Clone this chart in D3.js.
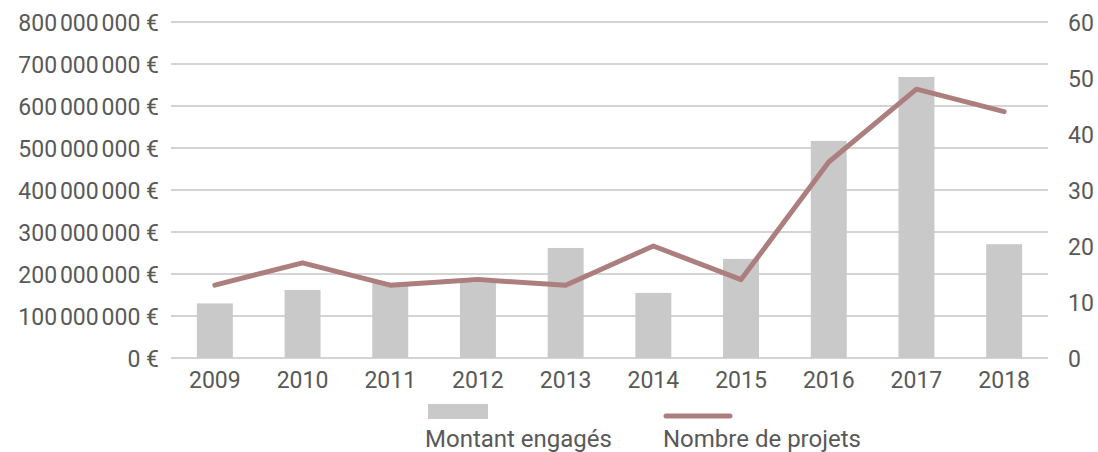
<!DOCTYPE html>
<html>
<head>
<meta charset="utf-8">
<script src="https://cdn.jsdelivr.net/npm/d3@7"></script>
<style>
  body { margin: 0; background: #fff; }
  svg text { font-family: Roboto, "Noto Sans", sans-serif; fill: #595959; }
</style>
</head>
<body>
<svg width="1098" height="452"></svg>
<script>
var svg = d3.select('svg');

// years on the x axis
var years = ['2009','2010','2011','2012','2013','2014','2015','2016','2017','2018'];
// amount committed (euros), bars
var montants = [130e6, 162e6, 179e6, 180e6, 262e6, 155e6, 236e6, 517e6, 669e6, 271e6];
// number of projects, line
var projets = [13, 17, 13, 14, 13, 20, 14, 35, 48, 44];
// axis ticks
var leftTicks = [0, 100e6, 200e6, 300e6, 400e6, 500e6, 600e6, 700e6, 800e6];
var rightTicks = [0, 10, 20, 30, 40, 50, 60];

var plotLeft = 171, plotRight = 1048, plotTop = 22, plotBottom = 358;

var x = d3.scaleBand().domain(years).range([plotLeft, plotRight]);
var yL = d3.scaleLinear().domain([0, 800e6]).range([plotBottom, plotTop]);
var yR = d3.scaleLinear().domain([0, 60]).range([plotBottom, plotTop]);

// euro format with thin spaces
function euro(v){
    if(v == 0) return '0 €';
    return d3.format(',')(v).replace(/,/g, '\u202f') + ' €';
}

// gridlines
svg.append('g').selectAll('line')
    .data(leftTicks)
    .enter()
    .append('line')
    .attr('x1', plotLeft).attr('x2', plotRight)
    .attr('y1', function(d){ return yL(d); })
    .attr('y2', function(d){ return yL(d); })
    .attr('stroke', '#d4d4d4')
    .attr('stroke-width', 2);

// bars
var bw = x.bandwidth() * 0.41;
svg.append('g').selectAll('rect')
    .data(montants)
    .enter()
    .append('rect')
    .attr('x', function(d, i){ return x(years[i]) + x.bandwidth()/2 - bw/2; })
    .attr('y', function(d){ return yL(d); })
    .attr('width', bw)
    .attr('height', function(d){ return plotBottom - yL(d); })
    .attr('fill', '#c9c9c9');

// line
var line = d3.line()
    .x(function(d, i){ return x(years[i]) + x.bandwidth()/2; })
    .y(function(d){ return yR(d); });

svg.append('path')
    .datum(projets)
    .attr('d', line)
    .attr('fill', 'none')
    .attr('stroke', '#ac7f7e')
    .attr('stroke-width', 5)
    .attr('stroke-linecap', 'round')
    .attr('stroke-linejoin', 'round');

// left axis
var axL = svg.append('g')
    .attr('transform', 'translate(' + (plotLeft - 12) + ',0)')
    .call(d3.axisLeft(yL).tickValues(leftTicks).tickFormat(euro).tickSize(0).tickPadding(0));
axL.select('.domain').remove();
axL.selectAll('text').style('font-size', '23px').attr('dy', '0.35em');

// right axis
var axR = svg.append('g')
    .attr('transform', 'translate(' + plotRight + ',0)')
    .call(d3.axisRight(yR).tickValues(rightTicks).tickSize(0).tickPadding(20));
axR.select('.domain').remove();
axR.selectAll('text').style('font-size', '23px').attr('dy', '0.35em');

// bottom axis
var axB = svg.append('g')
    .attr('transform', 'translate(0,' + plotBottom + ')')
    .call(d3.axisBottom(x).tickSize(0).tickPadding(14));
axB.select('.domain').remove();
axB.selectAll('text').style('font-size', '23px').attr('dy', '0.71em');

// legend
var leg = svg.append('g');
leg.append('rect')
    .attr('x', 428).attr('y', 404)
    .attr('width', 60).attr('height', 15)
    .attr('fill', '#c9c9c9');
leg.append('text')
    .attr('x', 425).attr('y', 447)
    .style('font-size', '24px')
    .text('Montant engagés');
leg.append('line')
    .attr('x1', 666).attr('x2', 730)
    .attr('y1', 416).attr('y2', 416)
    .attr('stroke', '#ac7f7e')
    .attr('stroke-width', 5)
    .attr('stroke-linecap', 'round');
leg.append('text')
    .attr('x', 663).attr('y', 447)
    .style('font-size', '24px')
    .text('Nombre de projets');
</script>
</body>
</html>
